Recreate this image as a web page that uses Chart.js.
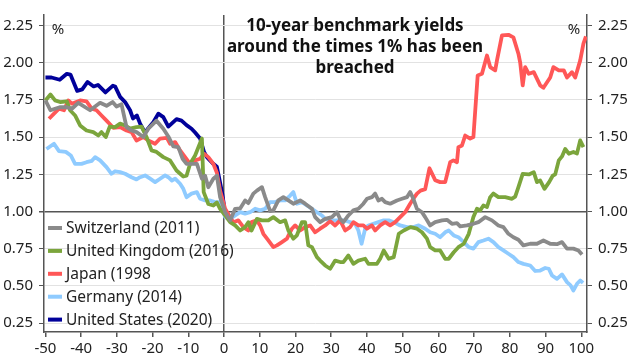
<!DOCTYPE html>
<html>
<head>
<meta charset="utf-8">
<script src="https://cdn.jsdelivr.net/npm/chart.js@4.4.0/dist/chart.umd.min.js"></script>
<style>
  body { margin: 0; background: #fff; }
  canvas { display: block; }
</style>
</head>
<body>
<canvas id="yieldChart" width="640" height="360"></canvas>
<script>
// days relative to the 1% breach, yield in %
const switzerland = [[-50,1.746],[-48.6,1.68],[-46,1.70],[-44,1.70],[-42.6,1.69],[-40.8,1.73],[-37.5,1.68],[-34.7,1.73],[-32.9,1.71],[-31.2,1.735],[-30.1,1.705],[-28.7,1.72],[-27.3,1.567],[-25.9,1.544],[-24.5,1.533],[-22.6,1.50],[-21.2,1.556],[-18.9,1.61],[-17,1.556],[-15.6,1.504],[-14.2,1.437],[-12.8,1.432],[-11.6,1.354],[-10.5,1.32],[-7.6,1.32],[-6.2,1.22],[-5.3,1.24],[-4.4,1.163],[-3,1.22],[-2,1.24],[-1.1,1.096],[0.3,0.995],[1.7,0.94],[3.1,1.018],[4.5,1.02],[5.9,1.074],[6.8,1.056],[8.2,1.12],[9.2,1.14],[10.6,1.163],[11.5,1.096],[12.9,1.002],[13.8,1.007],[15.2,1.074],[16.6,1.096],[18,1.074],[19.4,1.052],[21.3,1.074],[22.7,1.052],[24.6,1.018],[25.5,0.962],[26.9,0.928],[28.3,0.95],[30.2,0.962],[31.6,0.995],[32.5,0.95],[33.4,0.928],[34.8,0.973],[36.2,1.007],[37.6,1.018],[39,1.052],[40,1.085],[41.4,1.096],[42.3,1.12],[43.2,1.074],[44.2,1.085],[45.1,1.063],[46.5,1.052],[48.4,1.074],[49.8,1.085],[51.2,1.096],[52.1,1.13],[53,1.085],[54,1.018],[55.4,0.995],[56.3,0.962],[57.7,0.906],[59.1,0.928],[61,0.94],[62.4,0.944],[63.8,0.917],[65.2,0.921],[66.1,0.9],[68,0.906],[69.8,0.917],[71.2,0.928],[73.1,0.962],[75,0.94],[76.8,0.906],[78.2,0.895],[79.6,0.85],[81,0.827],[82.4,0.81],[83.8,0.772],[85.7,0.783],[87.6,0.783],[89.4,0.805],[91.3,0.783],[93.2,0.78],[94.6,0.794],[96,0.75],[97.8,0.75],[99.2,0.738],[100.2,0.71]];

const unitedKingdom = [[-50,1.746],[-48.6,1.786],[-47.3,1.746],[-45.9,1.735],[-44,1.74],[-43.1,1.68],[-41.7,1.645],[-40.3,1.578],[-38.5,1.544],[-36.6,1.533],[-35.2,1.51],[-34.3,1.533],[-33.1,1.50],[-32,1.57],[-30.5,1.567],[-29.1,1.59],[-27.7,1.578],[-26.3,1.556],[-24.5,1.567],[-23.1,1.57],[-21.7,1.50],[-20.3,1.41],[-18.9,1.40],[-17,1.365],[-15.1,1.343],[-13.3,1.275],[-11.4,1.235],[-10.5,1.24],[-9.5,1.32],[-8.1,1.376],[-6.2,1.49],[-5.7,1.13],[-4.4,1.05],[-3,1.04],[-2,1.06],[-1.1,1.018],[0.3,0.973],[1.7,0.928],[3.1,0.906],[4.5,0.872],[5.9,0.895],[6.8,0.928],[7.7,0.872],[9.2,0.95],[10.6,0.94],[12.4,0.94],[13.8,0.962],[15.7,0.928],[17.1,0.94],[18,0.872],[19.4,0.817],[20.4,0.84],[21.8,0.928],[22.7,0.928],[23.6,0.772],[24.6,0.76],[26,0.693],[26.9,0.67],[28.3,0.637],[29.7,0.615],[31.1,0.67],[32.5,0.66],[33.4,0.66],[34.8,0.704],[36.2,0.648],[37.6,0.67],[39.5,0.682],[40.4,0.648],[42.8,0.648],[43.7,0.682],[44.7,0.738],[46.1,0.682],[47.5,0.693],[48.9,0.85],[50.3,0.872],[52.2,0.895],[54,0.884],[55.4,0.86],[56.8,0.817],[57.7,0.76],[59.1,0.738],[60.5,0.738],[61.9,0.682],[62.9,0.682],[64.3,0.726],[65.6,0.76],[67.1,0.783],[68.5,0.85],[69.8,0.962],[70.8,1.018],[71.7,1.007],[72.6,1.04],[73.6,1.03],[74.5,1.096],[75.4,1.12],[76.8,1.096],[78.7,1.096],[80.6,1.085],[81.5,1.10],[82.4,1.163],[83.6,1.253],[85.3,1.249],[86.7,1.264],[87.6,1.197],[88.5,1.208],[89.7,1.152],[91,1.197],[92,1.24],[92.7,1.249],[93.7,1.343],[94.6,1.37],[95.5,1.42],[96.5,1.388],[97.8,1.40],[98.8,1.39],[99.7,1.477],[100.6,1.432]];

const japan = [[-49,1.623],[-47.6,1.657],[-46.2,1.69],[-44.8,1.68],[-43.6,1.746],[-42.6,1.724],[-40.3,1.746],[-38.5,1.74],[-37,1.69],[-35.7,1.68],[-34.3,1.645],[-32.9,1.61],[-31,1.562],[-29.1,1.567],[-27.3,1.544],[-25.9,1.533],[-24.5,1.477],[-22.6,1.50],[-21.2,1.477],[-19.3,1.455],[-17.9,1.49],[-16,1.495],[-15.1,1.455],[-13.7,1.466],[-12.3,1.41],[-10.9,1.365],[-9.5,1.32],[-8.1,1.343],[-6.7,1.354],[-5.6,1.388],[-4.4,1.365],[-3,1.32],[-2,1.26],[-1.1,1.141],[0.3,1.018],[1.7,0.962],[2.6,0.928],[4,0.94],[5.4,0.895],[6.8,0.872],[7.7,0.928],[9.2,0.94],[10.1,0.906],[11,0.85],[12.4,0.805],[13.8,0.76],[14.8,0.772],[16.2,0.794],[17.6,0.817],[19,0.884],[19.9,0.906],[21.3,0.872],[22.7,0.895],[24.1,0.906],[25.5,0.86],[26.9,0.884],[28.3,0.906],[29.7,0.935],[31.1,0.906],[32.5,0.94],[33.9,0.872],[35.3,0.895],[36.2,0.928],[37.6,0.906],[39,0.906],[40,0.884],[41.4,0.906],[42.3,0.872],[43.7,0.906],[45.1,0.928],[46.5,0.906],[47.9,0.928],[49.3,0.962],[50.7,0.995],[52.1,1.052],[53,1.085],[54,1.12],[55,1.14],[56.3,1.15],[57.5,1.29],[59.1,1.21],[60.5,1.197],[61.9,1.197],[63.3,1.331],[64.2,1.343],[65.2,1.331],[65.6,1.432],[66.6,1.443],[67.5,1.51],[68.9,1.49],[69.8,1.50],[71,1.914],[72.2,1.925],[73.6,2.048],[74.5,1.97],[75.9,1.948],[76.4,2.015],[77.8,2.183],[79.6,2.187],[81,2.17],[82.4,2.06],[82.9,2.0],[83.6,1.847],[84.3,1.97],[85.3,1.925],[86.7,1.936],[88.5,1.847],[89.4,1.831],[91.3,1.90],[92.2,1.97],[93.7,1.948],[95.1,1.948],[96,1.90],[97.4,1.936],[98.3,1.90],[99.7,2.015],[100.6,2.127],[101.3,2.176]];

const germany = [[-49.7,1.42],[-47.6,1.455],[-46.2,1.405],[-44.3,1.40],[-42.9,1.376],[-41.7,1.32],[-39.9,1.32],[-38.5,1.331],[-37,1.34],[-36.1,1.365],[-34.7,1.343],[-32.9,1.298],[-31.5,1.253],[-30.5,1.27],[-29.1,1.264],[-27.7,1.253],[-25.9,1.23],[-24.5,1.215],[-23.5,1.23],[-22.1,1.242],[-20.7,1.22],[-19.3,1.197],[-17.9,1.22],[-16.5,1.242],[-15.6,1.23],[-14.6,1.208],[-13.7,1.22],[-12.3,1.186],[-11.4,1.152],[-10.5,1.096],[-9.1,1.12],[-7.6,1.13],[-6.7,1.085],[-5.3,1.074],[-3.9,1.074],[-2.5,1.063],[-1.1,1.063],[0.3,0.962],[1.7,0.95],[3.1,0.973],[4.5,0.995],[5.9,0.985],[7.3,0.995],[8.7,1.018],[10.1,1.007],[11.5,1.018],[12.9,1.063],[14.3,1.063],[15.7,1.074],[17.1,1.074],[18.5,1.107],[19.4,1.13],[20.4,1.052],[21.8,1.063],[23.2,1.04],[24.6,1.018],[26,0.995],[27.4,0.973],[28.3,0.95],[29.7,0.94],[31.1,0.94],[32.5,0.94],[33.9,0.94],[35.3,0.928],[36.7,0.917],[37.6,0.872],[38.5,0.783],[39.5,0.884],[40.4,0.906],[41.8,0.917],[43.2,0.928],[44.7,0.94],[46.1,0.94],[47.5,0.928],[49.3,0.906],[51.2,0.895],[53,0.895],[54.5,0.906],[56.3,0.884],[57.7,0.86],[59.1,0.85],[60.5,0.827],[61.9,0.86],[62.9,0.872],[64.3,0.839],[65.6,0.827],[67.1,0.794],[68.5,0.76],[69.8,0.75],[71.2,0.794],[72.6,0.805],[74,0.817],[75.4,0.794],[76.8,0.76],[78.2,0.738],[79.6,0.716],[81,0.693],[82.4,0.66],[83.8,0.648],[85.7,0.637],[87.1,0.6],[88.5,0.603],[89.9,0.62],[90.9,0.615],[91.8,0.57],[93.2,0.547],[94.6,0.577],[96,0.525],[97,0.503],[97.8,0.469],[98.8,0.514],[99.7,0.536],[100.5,0.52]];

const unitedStates = [[-50,1.90],[-48.3,1.90],[-46,1.885],[-44,1.925],[-43,1.92],[-41.1,1.81],[-39.7,1.82],[-38.2,1.87],[-36.5,1.84],[-35.3,1.85],[-33.2,1.80],[-31.1,1.845],[-30.5,1.84],[-29.1,1.77],[-27.7,1.735],[-26.3,1.68],[-25.5,1.625],[-24.4,1.645],[-23.5,1.59],[-22.1,1.53],[-21.2,1.56],[-19.8,1.60],[-18.4,1.657],[-17,1.634],[-15.6,1.57],[-13.3,1.62],[-11.9,1.61],[-10.5,1.58],[-9.1,1.556],[-8.1,1.53],[-6.7,1.49],[-5.6,1.40],[-4.8,1.365],[-3,1.32],[-2,1.30],[-1,1.18],[-0.5,1.12],[0,1.04]];

const seriesNames = ["Switzerland (2011)", "United Kingdom (2016)", "Japan (1998", "Germany (2014)", "United States (2020)"];
const seriesColors = ["#8a8a8a", "#7ba53c", "#ff5757", "#8fcbff", "#00009a"];
const xTicks = [-50, -40, -30, -20, -10, 0, 10, 20, 30, 40, 50, 60, 70, 80, 90, 100];
const yTicks = [0.25, 0.5, 0.75, 1.0, 1.25, 1.5, 1.75, 2.0, 2.25];
const titleLines = ["10-year benchmark yields", "around the times 1% has been", "breached"];

const FONT = "'Noto Sans', 'Open Sans', sans-serif";
Chart.defaults.font.family = FONT;
Chart.defaults.font.size = 15;
Chart.defaults.color = "#222";

const allSeries = [switzerland, unitedKingdom, japan, germany, unitedStates];

// title, % marks and legend drawn straight on the canvas
const overlay = {
    id: "overlay",
    afterDraw(chart) {
        const ctx = chart.ctx;
        ctx.save();
        ctx.fillStyle = "#111";
        ctx.textAlign = "center";
        ctx.textBaseline = "middle";
        ctx.font = "bold 17px " + FONT;
        titleLines.forEach((t, i) => ctx.fillText(t, 355, 26 + i * 21));

        ctx.font = "15px " + FONT;
        ctx.fillStyle = "#222";
        ctx.fillText("%", 58, 30);
        ctx.fillText("%", 574, 30);

        ctx.textAlign = "left";
        ctx.font = "15.5px " + FONT;
        seriesNames.forEach((name, i) => {
            const y = 228 + i * 22.9;
            ctx.strokeStyle = seriesColors[i];
            ctx.lineWidth = 4;
            ctx.beginPath();
            ctx.moveTo(48, y);
            ctx.lineTo(62, y);
            ctx.stroke();
            ctx.fillStyle = "#222";
            ctx.fillText(name, 66, y + 1);
        });
        ctx.restore();
    }
};

const setTicks = list => axis => { axis.ticks = list.map(v => ({ value: v })); };

new Chart(document.getElementById("yieldChart"), {
    type: "line",
    data: {
        datasets: allSeries.map((s, i) => ({
            label: seriesNames[i],
            data: s.map(p => ({ x: p[0], y: p[1] })),
            borderColor: seriesColors[i],
            borderWidth: 3.8,
            pointRadius: 0,
            tension: 0,
            borderJoinStyle: "round",
            fill: false
        }))
    },
    options: {
        responsive: false,
        animation: false,
        layout: { padding: { top: 15, left: 0, right: 0, bottom: 0 } },
        plugins: { legend: { display: false }, tooltip: { enabled: false } },
        scales: {
            x: {
                type: "linear",
                min: -50.4,
                max: 101.6,
                afterBuildTicks: setTicks(xTicks),
                afterFit: s => { s.height = 28; },
                ticks: { maxRotation: 0, autoSkip: false, padding: 3 },
                grid: {
                    color: c => (c.tick && c.tick.value === 0) ? "#555" : "rgba(0,0,0,0)",
                    lineWidth: 1.5,
                    tickColor: "#555",
                    tickLength: 5
                },
                border: { color: "#555", width: 1.5 }
            },
            y: {
                min: 0.19,
                max: 2.32,
                afterBuildTicks: setTicks(yTicks),
                afterFit: s => { s.width = 44; },
                ticks: { padding: 6, callback: v => v.toFixed(2) },
                grid: {
                    color: c => (c.tick && c.tick.value === 1) ? "#555" : "#e2e2e2",
                    lineWidth: c => (c.tick && c.tick.value === 1) ? 1.5 : 1,
                    tickColor: "#555",
                    tickLength: 5
                },
                border: { color: "#555", width: 1.5 }
            },
            y2: {
                position: "right",
                min: 0.19,
                max: 2.32,
                afterBuildTicks: setTicks(yTicks),
                afterFit: s => { s.width = 53; },
                ticks: { padding: 6, callback: v => v.toFixed(2) },
                grid: { drawOnChartArea: false, tickColor: "#555", tickLength: 5 },
                border: { color: "#555", width: 1.5 }
            }
        }
    },
    plugins: [overlay]
});
</script>
</body>
</html>
